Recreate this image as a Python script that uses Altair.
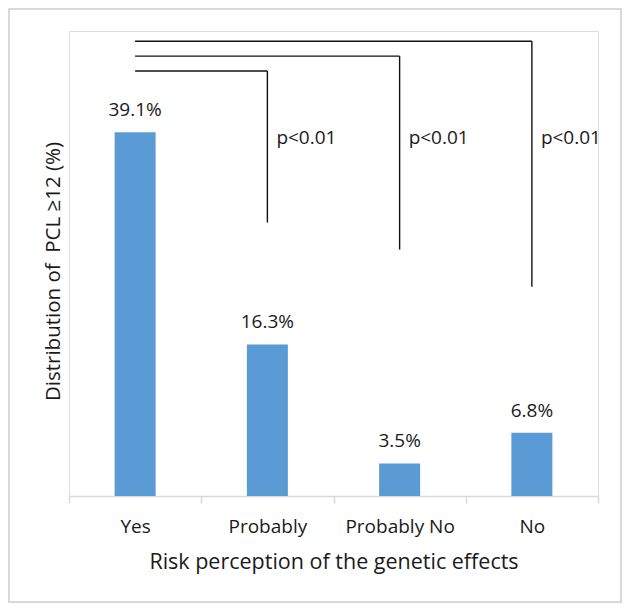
import altair as alt
import pandas as pd

# ---- data ----
categories = ["Yes", "Probably", "Probably No", "No"]
values = [39.1, 16.3, 3.5, 6.8]
value_labels = ["39.1%", "16.3%", "3.5%", "6.8%"]

# significance brackets (Yes vs each other group), y in % units
bracket_from = ["Yes", "Yes", "Yes"]
bracket_to = ["Probably", "Probably No", "No"]
bracket_top = [45.7, 47.3, 48.9]
bracket_bottom = [29.4, 26.5, 22.5]
bracket_text = ["p<0.01", "p<0.01", "p<0.01"]
bracket_text_y = [37.8, 37.8, 37.8]

FONT = "Open Sans"
BAR = "#5B9BD5"
GRID = "#d9d9d9"

bars_df = pd.DataFrame({"cat": categories, "val": values, "lab": value_labels})
br_df = pd.DataFrame({
    "from": bracket_from, "to": bracket_to,
    "top": bracket_top, "bottom": bracket_bottom,
    "txt": bracket_text, "ty": bracket_text_y,
})

xscale = alt.Scale(domain=categories, paddingInner=0, paddingOuter=0)
yscale = alt.Scale(domain=[0, 50])

x_axis = alt.Axis(
    title="Risk perception of the genetic effects",
    labelAngle=0, labelFont=FONT, labelFontSize=19, labelColor="#1a1a1a",
    labelPadding=14, tickBand="extent", tickSize=7, tickColor=GRID,
    tickWidth=1.5, domainColor=GRID, domainWidth=1.5, grid=False,
    titleFont=FONT, titleFontSize=21.5, titleFontWeight="normal",
    titleColor="#1a1a1a", titleBaseline="alphabetic", titleY=72,
)
y_axis = alt.Axis(
    title="Distribution of\u00a0 PCL ≥12 (%)",
    labels=False, ticks=False, domain=False, grid=False,
    minExtent=0, titleFont=FONT, titleFontSize=20.5,
    titleFontWeight="normal", titleColor="#1a1a1a",
    titleBaseline="alphabetic", titleX=-10, titleY=240, titleAngle=270,
)

base = alt.Chart(bars_df)

bars = base.mark_bar(color=BAR, width=41).encode(
    x=alt.X("cat:N", sort=categories, scale=xscale, axis=x_axis),
    y=alt.Y("val:Q", scale=yscale, axis=y_axis),
)

labels = base.mark_text(
    baseline="alphabetic", dy=-16, font=FONT, fontSize=19, color="#1a1a1a"
).encode(
    x=alt.X("cat:N", sort=categories),
    y=alt.Y("val:Q"),
    text="lab:N",
)

br = alt.Chart(br_df)
horiz = br.mark_rule(color="#111111", strokeWidth=1.4).encode(
    x=alt.X("from:N", sort=categories),
    x2="to:N",
    y=alt.Y("top:Q"),
)
vert = br.mark_rule(color="#111111", strokeWidth=1.4).encode(
    x=alt.X("to:N", sort=categories),
    y=alt.Y("top:Q"),
    y2="bottom:Q",
)
ptext = br.mark_text(
    align="left", baseline="alphabetic", dx=9, font=FONT, fontSize=19,
    color="#1a1a1a",
).encode(
    x=alt.X("to:N", sort=categories),
    y=alt.Y("ty:Q"),
    text="txt:N",
)

frame = alt.Chart(pd.DataFrame({"k": [0]})).mark_rect(
    filled=False, stroke=GRID, strokeWidth=2
).encode(
    x=alt.value(-60), x2=alt.value(552), y=alt.value(-22), y2=alt.value(571)
)

chart = alt.layer(frame, bars, labels, horiz, vert, ptext).properties(
    width=529, height=465,
    autosize=alt.AutoSizeParams(type="none"),
    padding={"left": 61, "top": 23, "right": 24, "bottom": 107},
).configure_view(stroke=None).configure(background="white")

chart.save("out.html", embed_options={"renderer": "svg", "actions": False})
